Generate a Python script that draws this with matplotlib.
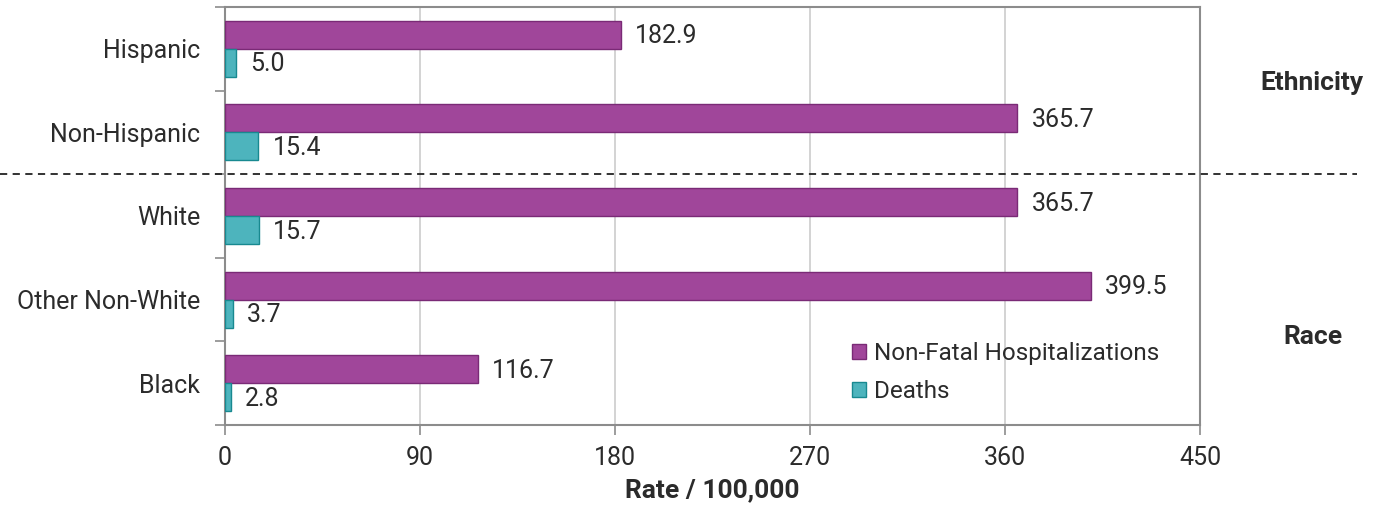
import matplotlib
matplotlib.use('Agg')
from matplotlib import pyplot as plt
from matplotlib import transforms
import numpy as np

plt.rcParams['font.family'] = ['Roboto', 'DejaVu Sans']

#data
groups = ['Hispanic', 'Non-Hispanic', 'White', 'Other Non-White', 'Black']
hosp = [182.9, 365.7, 365.7, 399.5, 116.7]
deaths = [5.0, 15.4, 15.7, 3.7, 2.8]
xticks = [0, 90, 180, 270, 360, 450]

purple = '#A0469A'
purple_edge = '#7A2A76'
teal = '#4DB4BD'
teal_edge = '#188990'
text_col = '#2b2b2b'
spine_col = '#8C8C8C'

fig = plt.figure(figsize=(13.78, 5.13), dpi=100)
ax = fig.add_axes([0.1633, 0.1715, 0.7075, 0.8149])

y = np.arange(len(groups))
h = 0.335
ax.barh(y - h/2, hosp, height=h, color=purple, edgecolor=purple_edge, linewidth=1,
        label='Non-Fatal Hospitalizations', zorder=3)
ax.barh(y + h/2, deaths, height=h, color=teal, edgecolor=teal_edge, linewidth=1,
        label='Deaths', zorder=3)

for i in range(len(groups)):
    ax.text(hosp[i] + 6.5, y[i] - h/2 + 0.02, '%.1f' % hosp[i], va='center', ha='left',
            fontsize=18, color=text_col)
    ax.text(deaths[i] + 6.5, y[i] + h/2 + 0.02, '%.1f' % deaths[i], va='center', ha='left',
            fontsize=18, color=text_col)

ax.set_xlim(0, 450)
ax.set_ylim(len(groups) - 0.5, -0.5)
ax.set_xticks(xticks)
ax.set_xticklabels([str(t) for t in xticks], fontsize=18, color=text_col)
ax.set_yticks(y)
ax.set_yticklabels(groups, fontsize=18, color=text_col)
ax.set_yticks(np.arange(-0.5, len(groups), 1), minor=True)
ax.tick_params(axis='y', which='major', length=0, pad=18)
ax.tick_params(axis='y', which='minor', length=7, color=spine_col, width=1.2)
ax.tick_params(axis='x', length=7, color=spine_col, width=1.2, pad=8)

ax.grid(axis='x', color='#CCCCCC', linewidth=1.2, zorder=0)
for s in ax.spines.values():
    s.set_color(spine_col)
    s.set_linewidth(1.5)

ax.set_xlabel('Rate / 100,000', fontsize=19, fontweight='bold', color=text_col, labelpad=6)

# separator between ethnicity and race
trans = transforms.blended_transform_factory(fig.transFigure, ax.transData)
ax.plot([0.0, 0.985], [1.5, 1.5], transform=trans, color='#222222', linestyle=(0, (4, 3)),
        linewidth=1.3, clip_on=False, zorder=5)

fig.text(0.952, 0.838, 'Ethnicity', fontsize=19, fontweight='bold', color=text_col, ha='center', va='center')
fig.text(0.953, 0.343, 'Race', fontsize=19, fontweight='bold', color=text_col, ha='center', va='center')

leg = ax.legend(loc='upper left', bbox_to_anchor=(0.643, 0.198), frameon=False, fontsize=17.5,
                borderaxespad=0, borderpad=0,
                handlelength=0.6, handleheight=0.6, handletextpad=0.3, labelspacing=0.6)
for t in leg.get_texts():
    t.set_color(text_col)

fig.savefig('out.png', dpi=100)
